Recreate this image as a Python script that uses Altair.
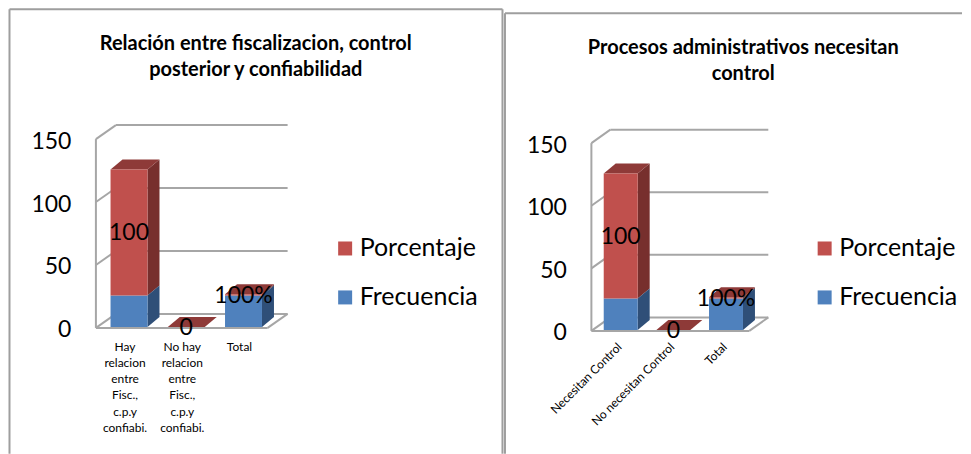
import altair as alt
import pandas as pd

FONT = "Lato"
frecuencia = [25, 0, 25]
porcentaje = [100, 0, 1]
labels_porcentaje = ["100", "0", "100%"]
ticks = [0, 50, 100, 150]
series = ["Porcentaje", "Frecuencia"]
cats_a = ["Hay\nrelacion\nentre\nFisc.,\nc.p.y\nconfiabi.", "No hay\nrelacion\nentre\nFisc.,\nc.p.y\nconfiabi.", "Total"]
cats_b = ["Necesitan Control", "No necesitan Control", "Total"]
title_a = "Relación entre fiscalizacion, control\nposterior y confiabilidad"
title_b = "Procesos administrativos necesitan\ncontrol"

GRAY = "#A6A6A6"
FRONT = {"Porcentaje": "#C0504D", "Frecuencia": "#4F81BD"}
SIDE = {"Porcentaje": "#772F2D", "Frecuencia": "#2F4F78"}
TOP = "#8E3A38"
PAGE = 8
H = 446


def panel(cats, title, G):
    W = G["W"]
    ox = G["left"]            # screen x of panel
    x0 = G["x0"] - ox         # axis position inside the view
    y0 = G["y0"] - PAGE       # zero line inside the view
    band, k = G["band"], G["k"]
    xs = alt.Scale(domain=[-x0 / band, (W - x0) / band], nice=False, zero=False)
    ys = alt.Scale(domain=[-(H - y0) / k, y0 / k], nice=False, zero=False)
    yaxis = alt.Axis(values=ticks, domain=False, ticks=False, grid=False, title=None,
                     labelFontSize=G["tick_size"], labelFont=FONT, labelColor="black",
                     labelPadding=0, offset=-(G["tick_right"] - ox), labelOffset=G["tick_shift"],
                     labelOverlap=False, labelFlush=False)
    X = lambda f="x": alt.X(f"{f}:Q", scale=xs, axis=None)
    Y = lambda f="y": alt.Y(f"{f}:Q", scale=ys, axis=yaxis)
    wdx, wdy = G["wall_dx"] / band, G["wall_dy"] / k
    bdx, bdy = G["bar_dx"] / band, G["bar_dy"] / k
    bw = G["bar_w"] / band
    shift = G["bar_shift"] / band
    lift = G["lift"] / k
    end = G["xend"]

    # chart walls and floor
    walls = [dict(x=0, x2=0, y=0, y2=ticks[-1])]
    for t in ticks:
        walls.append(dict(x=0, x2=wdx, y=t, y2=t + wdy))
        walls.append(dict(x=wdx, x2=end + wdx, y=t + wdy, y2=t + wdy))
    walls.append(dict(x=0, x2=end, y=0, y2=0))
    walls.append(dict(x=end, x2=end + wdx, y=0, y2=wdy))
    wall_layer = alt.Chart(pd.DataFrame(walls)).mark_rule(color=GRAY, strokeWidth=2).encode(
        x=X(), x2="x2:Q", y=Y(), y2="y2:Q")

    # stacked bars
    fronts, sides, tops, texts = [], [], [], []
    for i, (f, p, lab) in enumerate(zip(frecuencia, porcentaje, labels_porcentaje)):
        l = i + 0.5 - bw / 2 + shift
        r = l + bw
        base = lift
        for name, lo, hi in (("Frecuencia", base, base + f), ("Porcentaje", base + f, base + f + p)):
            fronts.append(dict(series=name, x=l, x2=r, y=lo, y2=hi))
            if hi > lo:
                sides.append(dict(series=name, bar=i, x=r, y=lo, y2=hi))
                sides.append(dict(series=name, bar=i, x=r + bdx, y=lo + bdy, y2=hi + bdy))
        top = base + f + p
        tops.append(dict(bar=i, y=top, x=l, x2=r))
        tops.append(dict(bar=i, y=top + bdy, x=l + bdx, x2=r + bdx))
        texts.append(dict(x=i + 0.5 + shift, y=f + p / 2, text=lab))

    side_df = pd.DataFrame(sides)
    layers = [wall_layer]
    for name in series:
        layers.append(
            alt.Chart(side_df[side_df.series == name]).mark_area(color=SIDE[name], opacity=1).encode(
                x=X(), y=Y(), y2="y2:Q", detail="bar:N"))
    layers.append(
        alt.Chart(pd.DataFrame(tops)).mark_area(color=TOP, orient="horizontal", opacity=1).encode(
            y=Y(), x=X(), x2="x2:Q", detail="bar:N"))
    layers.append(
        alt.Chart(pd.DataFrame(fronts)).mark_rect().encode(
            x=X(), x2="x2:Q", y=Y(), y2="y2:Q",
            color=alt.Color("series:N",
                            scale=alt.Scale(domain=series, range=[FRONT[s] for s in series]),
                            legend=alt.Legend(
                                orient="none", legendX=G["legend_x"] - ox, legendY=G["legend_y"] - PAGE,
                                title=None, symbolType="square", symbolSize=196, symbolStrokeWidth=0,
                                labelFontSize=G["legend_size"], labelFont=FONT, labelColor="black",
                                labelOffset=2, padding=0, rowPadding=G["legend_row"]))))
    layers.append(
        alt.Chart(pd.DataFrame(texts)).mark_text(font=FONT, fontSize=G["tick_size"], color="black").encode(
            x=X(), y=Y(), text="text:N"))

    # category labels
    cat_df = pd.DataFrame(dict(x=[i + 0.5 + G["cat_shift"] / band for i in range(3)], y=[-G["cat_dy"] / k] * 3, text=cats))
    if G["cat_angle"]:
        cat_mark = alt.Chart(cat_df).mark_text(font=FONT, fontSize=G["cat_size"], color="black",
                                               angle=G["cat_angle"], align="right", baseline="middle")
    else:
        cat_mark = alt.Chart(cat_df).mark_text(font=FONT, fontSize=G["cat_size"], color="black",
                                               align="center", baseline="top", lineBreak="\n", lineHeight=16.2)
    layers.append(cat_mark.encode(x=X(), y=Y(), text="text:N"))

    # chart title, as one multi-line text
    title_df = pd.DataFrame([dict(text=title)])
    layers.append(
        alt.Chart(title_df).mark_text(font=FONT, fontSize=G["title_size"], fontWeight="bold", color="black",
                                      lineBreak="\n", lineHeight=25.5, baseline="top", align="center").encode(
            x=alt.value(G["title_x"] - ox), y=alt.value(G["title_y"] - PAGE), text="text:N"))

    # outer frame of the chart
    fl, ft = G["frame_left"] - ox, G["frame_top"] - PAGE
    frame = alt.Chart(pd.DataFrame([dict(a=1)])).mark_rule(color="#9E9E9E", strokeWidth=2)
    layers.append(frame.encode(x=alt.value(fl), x2=alt.value(fl), y=alt.value(ft), y2=alt.value(H)))
    layers.append(frame.encode(x=alt.value(fl), x2=alt.value(G["frame_right"] - ox), y=alt.value(ft), y2=alt.value(ft)))
    if G["right_edge"]:
        rx = G["frame_right"] - ox
        layers.append(frame.encode(x=alt.value(rx), x2=alt.value(rx), y=alt.value(ft), y2=alt.value(H)))

    return alt.layer(*layers).properties(width=W, height=H)


A = dict(left=8, W=496, x0=96, y0=328, band=57.3, k=1.26, wall_dx=20, wall_dy=14, bar_dx=12, bar_dy=10,
         bar_w=37, bar_shift=4.5, lift=1, xend=3.0, tick_size=23, tick_right=71, tick_shift=2, legend_x=333,
         legend_y=236, legend_size=25, legend_row=23, cat_shift=0.5, cat_dy=14, cat_angle=0, cat_size=12,
         title_size=20, title_x=256, title_y=34, frame_left=9.5, frame_top=9, frame_right=503, right_edge=True)
B = dict(left=504, W=459, x0=592, y0=331, band=52.7, k=1.253, wall_dx=19, wall_dy=13.5, bar_dx=12, bar_dy=10,
         bar_w=34, bar_shift=3, lift=1, xend=3.0, tick_size=23, tick_right=567, tick_shift=2, legend_x=813,
         legend_y=236, legend_size=25, legend_row=23, cat_shift=2, cat_dy=14, cat_angle=315, cat_size=12,
         title_size=20, title_x=744, title_y=38, frame_left=505.5, frame_top=13, frame_right=963, right_edge=False)

chart = (alt.hconcat(panel(cats_a, title_a, A), panel(cats_b, title_b, B), spacing=0)
         .resolve_scale(color="independent")
         .resolve_legend(color="independent")
         .properties(padding=0)
         .configure_view(stroke=None))
chart.save("out.html", embed_options={"renderer": "svg", "actions": False})
